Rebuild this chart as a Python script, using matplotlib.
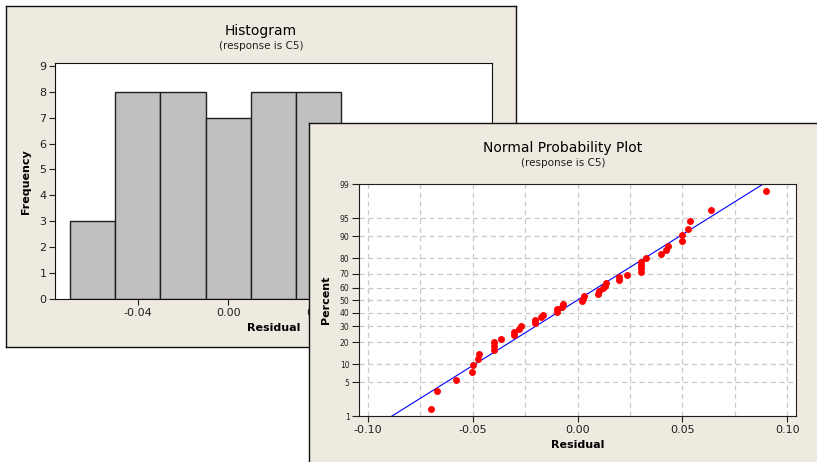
import matplotlib
matplotlib.use("Agg")
import matplotlib.pyplot as plt
import numpy as np
from statistics import NormalDist

# Histogram of residuals (bin midpoints and counts)
bin_mids = [-0.06, -0.04, -0.02, 0.00, 0.02, 0.04, 0.06, 0.08, 0.10]
bin_counts = [3, 8, 8, 7, 8, 8, 5, 0, 1]
hist_xticks = [-0.04, 0.00, 0.04, 0.08]
hist_yticks = list(range(10))

# Residuals for the normal probability plot (sorted)
residuals = [-0.0700, -0.0670, -0.0578, -0.0502, -0.0500, -0.0476, -0.0469,
             -0.0400, -0.0400, -0.0400, -0.0365, -0.0305, -0.0302, -0.0278,
             -0.0269, -0.0202, -0.0202, -0.0175, -0.0165, -0.0100, -0.0097,
             -0.0076, -0.0067, 0.0020, 0.0025, 0.0031, 0.0100, 0.0101,
             0.0120, 0.0129, 0.0135, 0.0200, 0.0200, 0.0235, 0.0301, 0.0301,
             0.0301, 0.0301, 0.0327, 0.0398, 0.0424, 0.0433, 0.0500, 0.0500,
             0.0525, 0.0535, 0.0635, 0.0900]
pct_ticks = [1, 5, 10, 20, 30, 40, 50, 60, 70, 80, 90, 95, 99]
npp_xticks = [-0.10, -0.05, 0.00, 0.05, 0.10]
npp_xgrid = [-0.10, -0.075, -0.05, -0.025, 0.0, 0.025, 0.05, 0.075, 0.10]

W, H = 817, 462
PANEL = "#EEEAE0"
BARS = "#C0C0C0"
GRID = "#C8C8C8"

plt.rcParams['font.family'] = ['DejaVu Sans']


def rect(x0, y0, x1, y1):
    # pixel box (top-left origin) -> figure fraction
    return [x0 / W, 1 - y1 / H, (x1 - x0) / W, (y1 - y0) / H]


nd = NormalDist()
to_z = np.vectorize(lambda p: nd.inv_cdf(min(max(p, 1e-6), 100 - 1e-6) / 100.0), otypes=[float])
to_p = np.vectorize(lambda z: nd.cdf(z) * 100.0, otypes=[float])

fig = plt.figure(figsize=(W / 100, H / 100), dpi=100)
fig.patch.set_facecolor("white")


def panel(box, z):
    ax = fig.add_axes(rect(*box))
    ax.set_zorder(z)
    ax.set_facecolor(PANEL)
    ax.set_xticks([])
    ax.set_yticks([])
    for s in ax.spines.values():
        s.set_color("#101010")
        s.set_linewidth(1.0)
    return ax


# ---- histogram panel ----
p1 = panel((6, 6, 516, 347), 1)
p1.text(0.5, 1 - 25 / 341, "Histogram", ha="center", va="center",
        fontsize=10, transform=p1.transAxes)
p1.text(0.5, 1 - 40 / 341, "(response is C5)", ha="center", va="center",
        fontsize=7.5, color="#202020", transform=p1.transAxes)

ax1 = fig.add_axes(rect(55, 63.3, 492.3, 299.3))
ax1.set_zorder(2)
ax1.bar(bin_mids, bin_counts, width=0.02, color=BARS, edgecolor="#202020", linewidth=1)
ax1.set_xlim(-0.0765, 0.1166)
ax1.set_ylim(0, 9.09)
ax1.set_xticks(hist_xticks)
ax1.set_xticklabels([f"{v:.2f}" for v in hist_xticks])
ax1.set_yticks(hist_yticks)
ax1.tick_params(labelsize=8, length=4, width=0.8, pad=2, colors="#202020")
ax1.set_xlabel("Residual", fontsize=8, fontweight="bold", labelpad=4)
ax1.set_ylabel("Frequency", fontsize=8, fontweight="bold", labelpad=6)
for s in ax1.spines.values():
    s.set_color("#101010")

# ---- normal probability plot panel ----
p2 = panel((309, 123, 840, 480), 3)
p2.text((563 - 309) / 531, 1 - (147.7 - 123) / 357, "Normal Probability Plot",
        ha="center", va="center", fontsize=10, transform=p2.transAxes)
p2.text((563 - 309) / 531, 1 - (162.7 - 123) / 357, "(response is C5)",
        ha="center", va="center", fontsize=7.5, color="#202020", transform=p2.transAxes)

ax2 = fig.add_axes(rect(359.3, 184, 795.7, 416.3))
ax2.set_zorder(4)
ax2.set_yscale("function", functions=(to_z, to_p))
ax2.set_ylim(1, 99)
ax2.set_xlim(-0.104, 0.104)

n = len(residuals)
ranks = np.arange(1, n + 1)
pos = (ranks - 0.3) / (n + 0.4) * 100

mu = np.mean(residuals)
sd = np.std(residuals, ddof=1)
line_p = np.array([0.5, 99.5])
line_x = mu + sd * to_z(line_p)

ax2.set_xticks(npp_xgrid, minor=True)
ax2.set_xticks(npp_xticks)
ax2.set_xticklabels([f"{v:.2f}" for v in npp_xticks])
ax2.set_yticks(pct_ticks)
ax2.set_yticklabels([str(v) for v in pct_ticks])
ax2.yaxis.set_minor_locator(matplotlib.ticker.NullLocator())
ax2.grid(True, which="both", axis="x", color=GRID, linestyle=(0, (4, 3)), linewidth=0.9)
ax2.grid(True, which="major", axis="y", color=GRID, linestyle=(0, (4, 3)), linewidth=0.9)
ax2.tick_params(axis="x", which="minor", length=0)
ax2.tick_params(axis="x", labelsize=8, length=4, width=0.8, pad=2, colors="#202020")
ax2.tick_params(axis="y", labelsize=5.5, length=5, width=0.8, pad=2, colors="#202020")
ax2.set_axisbelow(True)

ax2.plot(line_x, line_p, color="#0000FF", linewidth=0.8, zorder=2)
ax2.plot(residuals, pos, "o", color="#FF0000", markersize=5, markeredgewidth=0, zorder=3)

ax2.set_xlabel("Residual", fontsize=8, fontweight="bold", labelpad=4)
ax2.set_ylabel("Percent", fontsize=8, fontweight="bold", labelpad=6)
for s in ax2.spines.values():
    s.set_color("#202020")

fig.savefig("out.png", dpi=100)
